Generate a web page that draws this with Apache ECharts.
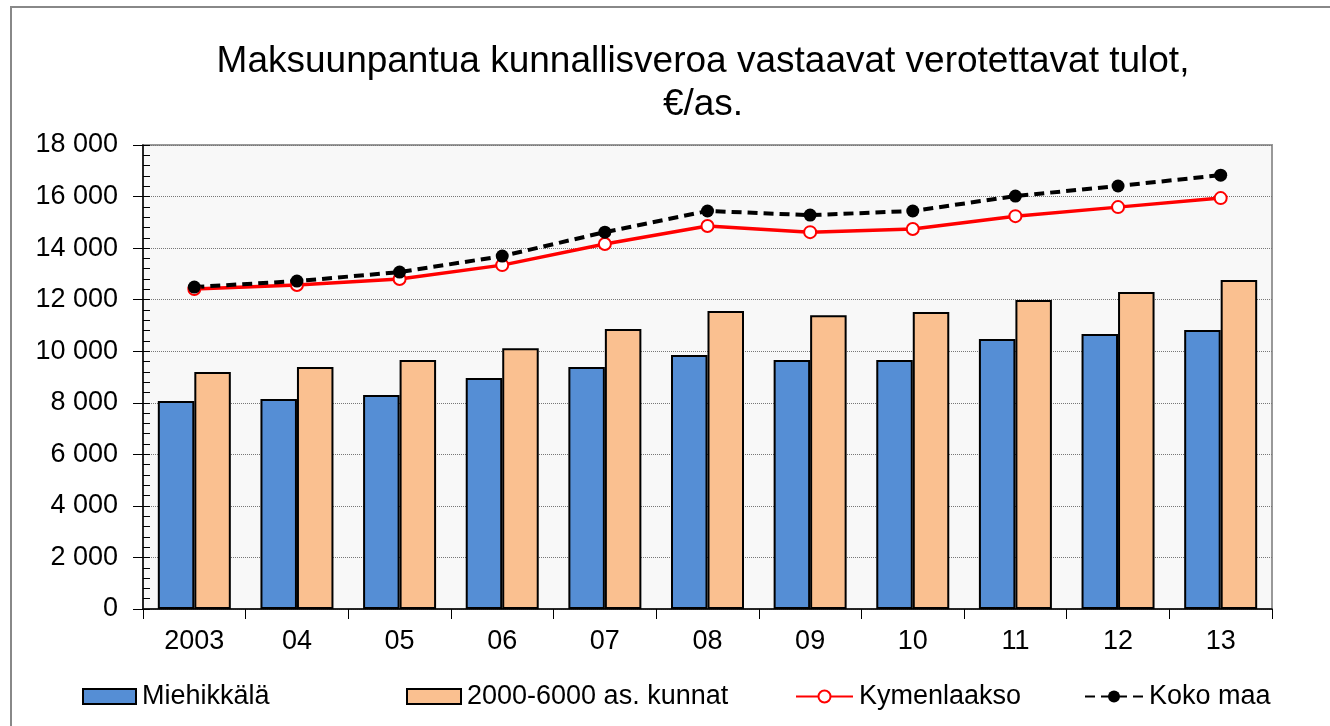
<!DOCTYPE html>
<html>
<head>
<meta charset="utf-8">
<script src="https://cdn.jsdelivr.net/npm/echarts@6/dist/echarts.min.js"></script>
<style>
  html, body { margin: 0; padding: 0; background: #fff; }
  #chart { width: 1330px; height: 726px; }
</style>
</head>
<body>
<div id="chart"></div>
<script>
let years = ['2003', '04', '05', '06', '07', '08', '09', '10', '11', '12', '13']
let miehikkala = [8070, 8150, 8300, 8960, 9390, 9850, 9660, 9660, 10470, 10670, 10820]
let kunnat = [9190, 9390, 9660, 10120, 10860, 11560, 11400, 11520, 11990, 12300, 12760]
let kymenlaakso = [12410, 12570, 12800, 13340, 14160, 14860, 14620, 14740, 15240, 15590, 15940]
let kokoMaa = [12490, 12720, 13070, 13690, 14620, 15440, 15280, 15440, 16020, 16410, 16830]

let chart = echarts.init(document.querySelector('#chart'))

let font = 'Liberation Sans, Arial, sans-serif'
let fmt = v => String(v).replace(/\B(?=(\d{3})+(?!\d))/g, ' ')

// one legend per item, Excel spaces them unevenly
function legendAt(left, name, iconWidth, icon) {
    let lg = {
        left: left,
        top: 678,
        data: [name],
        itemWidth: iconWidth,
        itemHeight: 15,
        textStyle: { fontFamily: font, fontSize: 27, color: '#000', padding: [0, 0, 0, 1] }
    }
    if (icon) lg.icon = icon
    return lg
}

chart.setOption({
    animation: false,
    graphic: [
        {
            type: 'rect',
            shape: { x: 11, y: 7, width: 1340, height: 740 },
            style: { fill: 'none', stroke: '#888', lineWidth: 2 },
            silent: true
        },
        {
            // chart title, centred a bit right of the canvas middle like the original
            type: 'text',
            x: 703,
            y: 40,
            silent: true,
            style: {
                text: 'Maksuunpantua kunnallisveroa vastaavat verotettavat tulot,\n€/as.',
                textAlign: 'center',
                textVerticalAlign: 'top',
                fontFamily: font,
                fontSize: 37,
                lineHeight: 43,
                fill: '#000'
            }
        }
    ],
    legend: [
        legendAt(77, 'Miehikkälä', 53, 'rect'),
        legendAt(401, '2000-6000 as. kunnat', 54, 'rect'),
        legendAt(790, 'Kymenlaakso', 57),
        legendAt(1079, 'Koko maa', 58)
    ],
    grid: {
        left: 143,
        right: 58,
        top: 145,
        bottom: 117,
        show: true,
        backgroundColor: '#f8f8f8',
        borderColor: '#999',
        borderWidth: 2
    },
    xAxis: {
        type: 'category',
        data: years,
        axisLine: { lineStyle: { color: '#000', width: 1.5 } },
        axisTick: { show: true, length: 10, lineStyle: { color: '#000' } },
        axisLabel: { fontFamily: font, fontSize: 27, color: '#000', margin: 19 }
    },
    yAxis: [
        {
            type: 'value',
            min: 0,
            max: 18000,
            interval: 2000,
            axisLine: { show: true, lineStyle: { color: '#000', width: 1.5 } },
            axisTick: { show: true, length: 10, lineStyle: { color: '#000' } },
            axisLabel: { fontFamily: font, fontSize: 27, color: '#000', margin: 25, formatter: fmt },
            splitLine: { show: true, lineStyle: { color: '#777', type: [1, 1], width: 1 } }
        },
        {
            type: 'value',
            position: 'left',
            min: 0,
            max: 18000,
            interval: 400,
            axisLine: { show: false },
            axisTick: { show: true, inside: true, length: 7, lineStyle: { color: '#000' } },
            axisLabel: { show: false },
            splitLine: { show: false }
        }
    ],
    series: [
        {
            name: 'Miehikkälä',
            type: 'bar',
            data: miehikkala,
            barWidth: 36.5,
            barGap: '0%',
            itemStyle: { color: '#558ED5', borderColor: '#000', borderWidth: 2 }
        },
        {
            name: '2000-6000 as. kunnat',
            type: 'bar',
            data: kunnat,
            barWidth: 36.5,
            barGap: '0%',
            itemStyle: { color: '#FAC090', borderColor: '#000', borderWidth: 2 }
        },
        {
            name: 'Kymenlaakso',
            type: 'line',
            data: kymenlaakso,
            symbol: 'circle',
            symbolSize: 12,
            lineStyle: { color: '#ff0000', width: 3.5 },
            itemStyle: { color: '#fff', borderColor: '#ff0000', borderWidth: 2 }
        },
        {
            name: 'Koko maa',
            type: 'line',
            data: kokoMaa,
            symbol: 'circle',
            symbolSize: 13,
            lineStyle: { color: '#000', width: 4, type: [10, 6] },
            itemStyle: { color: '#000' }
        }
    ]
})
</script>
</body>
</html>
